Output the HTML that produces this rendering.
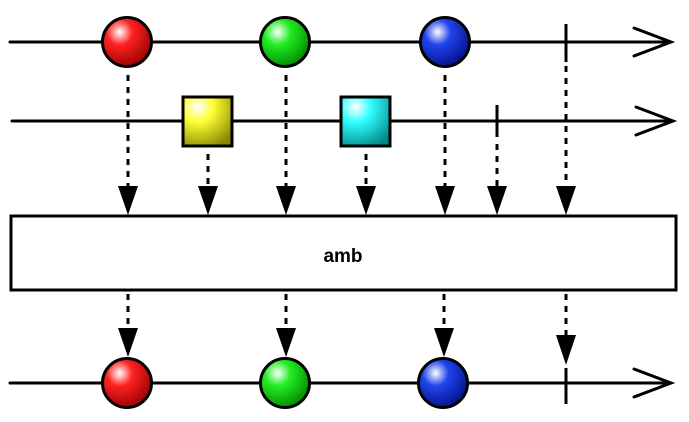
<!DOCTYPE html>
<html><head><style>html,body{margin:0;padding:0;background:#fff}svg{display:block}</style></head>
<body>
<svg width="689" height="422" viewBox="0 0 689 422" xmlns="http://www.w3.org/2000/svg">
<defs>
<radialGradient id="r" cx="0.35" cy="0.3" r="0.75"><stop offset="0" stop-color="#fff"/><stop offset="0.35" stop-color="#f22"/><stop offset="1" stop-color="#900"/></radialGradient>
<radialGradient id="g" cx="0.35" cy="0.3" r="0.75"><stop offset="0" stop-color="#fff"/><stop offset="0.35" stop-color="#2e2"/><stop offset="1" stop-color="#080"/></radialGradient>
<radialGradient id="b" cx="0.35" cy="0.3" r="0.75"><stop offset="0" stop-color="#fff"/><stop offset="0.35" stop-color="#24e"/><stop offset="1" stop-color="#018"/></radialGradient>
<radialGradient id="y" cx="0.3" cy="0.2" r="0.9"><stop offset="0" stop-color="#fff"/><stop offset="0.35" stop-color="#ff3"/><stop offset="1" stop-color="#880"/></radialGradient>
<radialGradient id="c" cx="0.3" cy="0.2" r="0.9"><stop offset="0" stop-color="#fff"/><stop offset="0.35" stop-color="#3ff"/><stop offset="1" stop-color="#088"/></radialGradient>
<marker id="a" markerWidth="10" markerHeight="10" refX="5" refY="10" orient="auto" markerUnits="userSpaceOnUse"></marker>
</defs>
<g stroke="#000" stroke-width="3" fill="none" stroke-linecap="round">
<line x1="10" y1="42" x2="670" y2="42"/><polyline points="634,28 671,42 634,56"/>
<line x1="12" y1="121" x2="670" y2="121"/><polyline points="636,107 673,121 636,135"/>
<line x1="10" y1="383" x2="670" y2="383"/><polyline points="634,369 671,383 634,397"/>
<line x1="566" y1="24" x2="566" y2="62" stroke-linecap="butt"/>
<line x1="497" y1="105" x2="497" y2="137" stroke-linecap="butt"/>
<line x1="566" y1="368" x2="566" y2="404" stroke-linecap="butt"/>
</g>
<g stroke="#000" stroke-width="3" stroke-dasharray="6,6" fill="none">
<line x1="128" y1="75" x2="128" y2="190"/>
<line x1="208" y1="154" x2="208" y2="190"/>
<line x1="286" y1="75" x2="286" y2="190"/>
<line x1="366" y1="154" x2="366" y2="190"/>
<line x1="445" y1="75" x2="445" y2="190"/>
<line x1="497" y1="144" x2="497" y2="190"/>
<line x1="566" y1="66" x2="566" y2="190"/>
<line x1="128" y1="294" x2="128" y2="332"/>
<line x1="286" y1="294" x2="286" y2="332"/>
<line x1="444" y1="294" x2="444" y2="332"/>
<line x1="566" y1="294" x2="566" y2="338"/>
</g>
<g fill="#000">
<polygon points="118,186 138,186 128,215"/>
<polygon points="198,186 218,186 208,215"/>
<polygon points="276,186 296,186 286,215"/>
<polygon points="356,186 376,186 366,215"/>
<polygon points="435,186 455,186 445,215"/>
<polygon points="487,186 507,186 497,215"/>
<polygon points="556,186 576,186 566,215"/>
<polygon points="118,328 138,328 128,357"/>
<polygon points="276,328 296,328 286,357"/>
<polygon points="434,328 454,328 444,357"/>
<polygon points="556,335 576,335 566,365"/>
</g>
<rect x="11" y="216" width="665" height="74" fill="#fff" stroke="#000" stroke-width="3"/>
<text x="343" y="262" font-family="Liberation Sans, sans-serif" font-weight="bold" font-size="19" text-anchor="middle">amb</text>
<g stroke="#000" stroke-width="3">
<circle cx="127" cy="42" r="24.5" fill="url(#r)"/>
<circle cx="285" cy="42" r="24.5" fill="url(#g)"/>
<circle cx="445" cy="42" r="24.5" fill="url(#b)"/>
<rect x="183" y="97" width="49" height="49" fill="url(#y)"/>
<rect x="341" y="97" width="49" height="49" fill="url(#c)"/>
<circle cx="127" cy="383" r="24.5" fill="url(#r)"/>
<circle cx="285" cy="383" r="24.5" fill="url(#g)"/>
<circle cx="443" cy="383" r="24.5" fill="url(#b)"/>
</g>
</svg>
</body></html>
